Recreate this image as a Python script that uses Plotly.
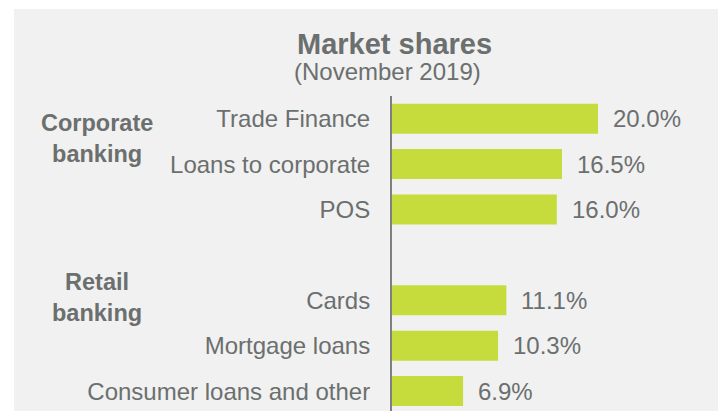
import plotly.graph_objects as go

# ---- data ----
categories = ["Trade Finance", "Loans to corporate", "POS", " ",
              "Cards", "Mortgage loans", "Consumer loans and other"]
shares = [20.0, 16.5, 16.0, None, 11.1, 10.3, 6.9]
group_labels = ["Corporate<br>banking", "Retail<br>banking"]
group_positions = [0.5, 4.0]  # category-index positions of group labels
title_text = "Market shares"
subtitle_text = "(November 2019)"

# ---- styling ----
W, H = 718, 411
ML, MT = 392, 96
PW, PH = W - ML, H - MT
PX_PER_UNIT = 10.3
SLOT = 45.4
TEXT = "#6b6f6e"
BAR = "#c5dc3c"
BG = "#f1f1f1"
FONT = "Liberation Sans, Arial, sans-serif"


def px_x(px):
    return (px - ML) / PW


def px_y(py):
    return (H - py) / PH


bar_cats = [c for c, v in zip(categories, shares) if v is not None]
bar_vals = [v for v in shares if v is not None]

fig = go.Figure()
fig.add_trace(go.Bar(
    x=bar_vals, y=bar_cats, orientation="h",
    marker=dict(color=BAR, line=dict(width=0)),
    hoverinfo="skip",
))

annotations = []
for c, v in zip(bar_cats, bar_vals):
    annotations.append(dict(
        x=v, y=c, xref="x", yref="y", text=f"{v:.1f}%",
        showarrow=False, xanchor="left", yanchor="middle", xshift=13,
        font=dict(family=FONT, size=24, color=TEXT),
    ))
for lab, pos in zip(group_labels, group_positions):
    annotations.append(dict(
        x=px_x(97), y=pos, xref="paper", yref="y", text=f"<b>{lab}</b>",
        showarrow=False, xanchor="center", yanchor="middle", align="center",
        yshift=3,
        font=dict(family=FONT, size=23.5, color=TEXT),
    ))
annotations.append(dict(
    x=px_x(394), y=px_y(44), xref="paper", yref="paper",
    text=f"<b>{title_text}</b>", showarrow=False,
    xanchor="center", yanchor="middle",
    font=dict(family=FONT, size=29, color=TEXT),
))
annotations.append(dict(
    x=px_x(387), y=px_y(71), xref="paper", yref="paper",
    text=subtitle_text, showarrow=False,
    xanchor="center", yanchor="middle",
    font=dict(family=FONT, size=24, color=TEXT),
))

fig.update_layout(
    width=W, height=H,
    margin=dict(l=ML, r=0, t=MT, b=0, pad=0, autoexpand=False),
    paper_bgcolor="white",
    plot_bgcolor="rgba(0,0,0,0)",
    showlegend=False,
    bargap=0.34,
    annotations=annotations,
    shapes=[dict(
        type="rect", xref="paper", yref="paper", layer="below",
        x0=px_x(14), x1=px_x(W + 2), y0=px_y(H + 2), y1=px_y(9),
        fillcolor=BG, line=dict(width=0),
    )],
    xaxis=dict(
        range=[0, PW / PX_PER_UNIT], visible=False, fixedrange=True,
    ),
    yaxis=dict(
        type="category", categoryorder="array", categoryarray=categories,
        range=[-0.5 + PH / SLOT, -0.5],
        showline=True, linecolor="#7f7f7f", linewidth=2,
        showgrid=False, zeroline=False, ticks="",
        ticklabelstandoff=15,
        tickfont=dict(family=FONT, size=24, color=TEXT),
        automargin=False, fixedrange=True,
    ),
)

fig.write_html(
    "out.html",
    config={"displayModeBar": False},
    post_script="document.body.style.margin='0';document.body.style.overflow='hidden';",
)
